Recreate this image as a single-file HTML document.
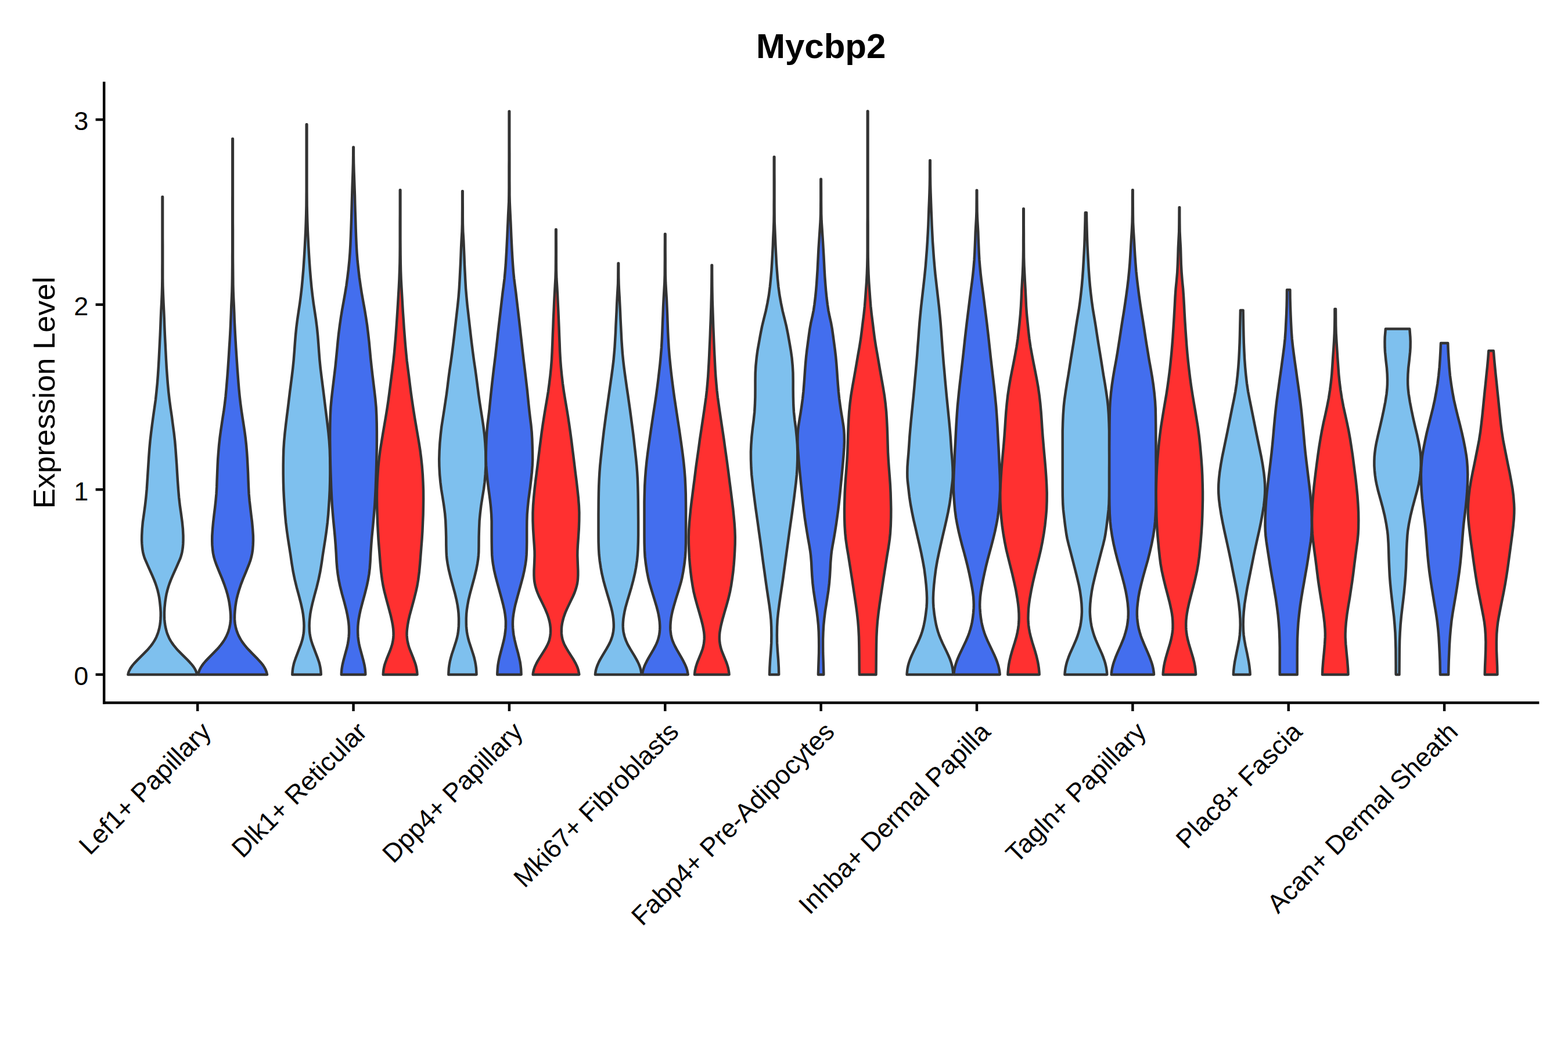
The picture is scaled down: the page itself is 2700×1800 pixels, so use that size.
<!DOCTYPE html>
<html lang="en"><head><meta charset="utf-8"><title>Mycbp2</title>
<style>html,body{margin:0;padding:0;background:#fff;}body{width:2700px;height:1800px;overflow:hidden;font-family:"Liberation Sans",sans-serif;}svg{display:block;}.t{fill:#000;font-family:"Liberation Sans",sans-serif;}.v{stroke:#333;stroke-width:4.45;stroke-linejoin:round;stroke-linecap:round;}.ax{stroke:#000;stroke-width:4.45;fill:none;}</style></head><body>
<svg xmlns="http://www.w3.org/2000/svg" width="2700" height="1800" viewBox="0 0 2700 1800">
<rect x="0" y="0" width="2700" height="1800" fill="#fff"/>
<g class="v">
<path d="M280.1 339.0L280.1 353.0L280.1 367.0L280.1 381.0L280.1 395.0L280.1 409.0L280.2 423.0L280.2 437.0L280.2 451.0L280.2 465.0L280.2 479.0L280.4 493.0L280.9 507.0L281.5 521.0L282.2 535.0L282.8 549.0L283.3 563.0L283.9 577.0L284.6 591.0L285.3 605.0L286.0 619.0L286.8 633.0L287.8 647.0L288.9 661.0L290.2 675.0L291.8 689.0L293.7 703.0L295.8 717.0L297.6 731.0L299.5 745.0L301.1 758.9L302.3 772.9L303.3 786.9L304.3 800.9L305.1 814.9L306.0 828.9L307.0 842.9L308.2 856.9L309.8 870.9L311.8 884.9L313.7 898.9L314.9 910.9L315.5 922.9L315.5 930.9L315.3 936.9L314.8 942.9L314.2 946.9L313.5 950.9L312.6 954.9L311.4 958.9L310.0 962.9L303.9 976.9L297.6 990.9L294.2 998.9L291.9 1004.9L289.9 1010.9L288.2 1016.9L286.7 1022.9L285.6 1028.9L284.4 1036.9L283.4 1046.9L283.0 1054.9L283.0 1060.9L283.2 1066.9L283.8 1072.9L284.4 1076.9L285.1 1080.9L286.1 1084.9L287.2 1088.9L288.6 1092.9L290.3 1096.9L291.2 1098.9L292.2 1100.9L293.3 1102.9L294.5 1104.9L295.8 1106.9L297.2 1108.9L298.6 1110.9L300.2 1112.9L303.5 1116.9L307.1 1120.9L313.0 1126.9L323.1 1136.9L326.9 1140.9L328.7 1142.9L330.4 1144.9L332.0 1146.9L333.5 1148.9L334.8 1150.9L336.0 1152.9L337.0 1154.9L337.8 1156.9L338.5 1158.9L339.3 1161.9L220.4 1161.9L221.1 1158.9L221.8 1156.9L222.7 1154.9L223.7 1152.9L224.8 1150.9L226.2 1148.9L227.6 1146.9L229.2 1144.9L230.9 1142.9L232.8 1140.9L236.6 1136.9L246.6 1126.9L252.5 1120.9L256.1 1116.9L259.5 1112.9L261.0 1110.9L262.5 1108.9L263.8 1106.9L265.1 1104.9L266.3 1102.9L267.4 1100.9L268.4 1098.9L269.4 1096.9L271.0 1092.9L272.4 1088.9L273.6 1084.9L274.5 1080.9L275.3 1076.9L275.9 1072.9L276.4 1066.9L276.7 1060.9L276.7 1054.9L276.2 1046.9L275.2 1036.9L274.1 1028.9L272.9 1022.9L271.5 1016.9L269.7 1010.9L267.7 1004.9L265.4 998.9L262.0 990.9L255.7 976.9L249.6 962.9L248.2 958.9L247.0 954.9L246.1 950.9L245.4 946.9L244.9 942.9L244.4 936.9L244.1 930.9L244.2 922.9L244.8 910.9L245.9 898.9L247.9 884.9L249.8 870.9L251.4 856.9L252.7 842.9L253.6 828.9L254.5 814.9L255.4 800.9L256.3 786.9L257.3 772.9L258.6 758.9L260.2 745.0L262.0 731.0L263.9 717.0L265.9 703.0L267.9 689.0L269.4 675.0L270.8 661.0L271.9 647.0L272.8 633.0L273.6 619.0L274.3 605.0L275.0 591.0L275.7 577.0L276.3 563.0L276.8 549.0L277.4 535.0L278.2 521.0L278.8 507.0L279.2 493.0L279.4 479.0L279.4 465.0L279.5 451.0L279.5 437.0L279.5 423.0L279.5 409.0L279.5 395.0L279.5 381.0L279.5 367.0L279.5 353.0L279.5 339.0Z" fill="#7EC0EE"/>
<path d="M400.9 238.9L400.9 250.9L400.9 262.9L400.9 274.9L400.9 286.9L400.9 298.9L400.9 310.9L400.9 322.9L400.9 334.9L400.9 346.9L400.9 358.9L400.9 370.9L400.9 382.9L401.0 394.9L401.0 406.9L401.0 418.9L401.0 430.9L401.0 442.9L401.1 454.9L401.2 466.9L401.3 478.9L401.4 490.9L401.7 502.9L402.2 514.9L402.8 526.9L403.3 538.9L403.7 550.9L404.3 562.9L404.9 574.9L405.6 586.9L406.3 598.9L407.1 610.9L407.9 622.9L408.7 634.9L409.6 646.9L410.5 658.9L411.5 670.9L412.7 682.9L414.1 694.9L415.7 706.9L417.5 718.9L419.4 730.9L421.2 742.9L422.8 754.9L424.1 766.9L425.1 778.9L425.9 790.9L426.5 802.9L427.1 814.9L427.5 826.9L428.0 838.9L428.6 850.9L429.7 862.9L431.1 874.9L432.5 886.9L434.0 898.9L435.1 910.9L435.9 922.9L436.0 930.9L435.7 938.9L435.1 946.9L434.2 952.9L433.4 956.9L432.4 960.9L431.3 964.9L428.4 972.9L423.6 984.9L418.6 996.9L414.8 1006.9L411.5 1016.9L409.2 1024.9L407.7 1030.9L406.5 1036.9L405.3 1044.9L404.5 1052.9L404.1 1058.9L404.0 1062.9L404.1 1066.9L404.3 1070.9L404.8 1074.9L405.6 1078.9L406.5 1082.9L407.7 1086.9L409.2 1090.9L410.9 1094.9L413.0 1098.9L414.1 1100.9L415.3 1102.9L416.6 1104.9L418.0 1106.9L421.0 1110.9L424.3 1114.9L427.9 1118.9L433.6 1124.9L443.5 1134.9L447.2 1138.9L449.0 1140.9L450.6 1142.9L452.2 1144.9L453.6 1146.9L454.9 1148.9L456.0 1150.9L457.1 1152.9L457.9 1154.9L458.7 1156.9L459.3 1158.9L460.0 1161.9L341.1 1161.9L341.8 1158.9L342.5 1156.9L343.2 1154.9L344.1 1152.9L345.1 1150.9L346.3 1148.9L347.6 1146.9L349.0 1144.9L350.5 1142.9L352.2 1140.9L353.9 1138.9L357.7 1134.9L367.5 1124.9L373.3 1118.9L376.9 1114.9L380.2 1110.9L383.2 1106.9L384.6 1104.9L385.9 1102.9L387.1 1100.9L388.2 1098.9L390.2 1094.9L392.0 1090.9L393.4 1086.9L394.6 1082.9L395.6 1078.9L396.3 1074.9L396.8 1070.9L397.1 1066.9L397.2 1062.9L397.1 1058.9L396.7 1052.9L395.8 1044.9L394.6 1036.9L393.4 1030.9L392.0 1024.9L389.7 1016.9L386.3 1006.9L382.5 996.9L377.5 984.9L372.7 972.9L369.9 964.9L368.7 960.9L367.7 956.9L366.9 952.9L366.1 946.9L365.4 938.9L365.2 930.9L365.3 922.9L366.1 910.9L367.2 898.9L368.6 886.9L370.1 874.9L371.4 862.9L372.5 850.9L373.2 838.9L373.6 826.9L374.1 814.9L374.6 802.9L375.2 790.9L376.1 778.9L377.1 766.9L378.4 754.9L380.0 742.9L381.8 730.9L383.6 718.9L385.5 706.9L387.1 694.9L388.5 682.9L389.6 670.9L390.6 658.9L391.6 646.9L392.5 634.9L393.3 622.9L394.1 610.9L394.8 598.9L395.6 586.9L396.3 574.9L396.9 562.9L397.4 550.9L397.9 538.9L398.3 526.9L398.9 514.9L399.4 502.9L399.7 490.9L399.9 478.9L400.0 466.9L400.1 454.9L400.1 442.9L400.2 430.9L400.2 418.9L400.2 406.9L400.2 394.9L400.2 382.9L400.2 370.9L400.2 358.9L400.2 346.9L400.3 334.9L400.3 322.9L400.3 310.9L400.3 298.9L400.3 286.9L400.3 274.9L400.3 262.9L400.3 250.9L400.3 238.9Z" fill="#436EEE"/>
<path d="M528.4 214.3L528.4 228.3L528.4 242.3L528.4 256.3L528.4 270.3L528.4 284.3L528.4 298.3L528.4 312.3L528.4 326.3L528.5 340.2L528.6 354.2L528.9 368.2L529.3 382.2L529.8 396.2L530.5 410.2L531.2 424.2L532.0 438.2L532.9 452.2L533.9 466.2L535.1 480.2L536.4 494.2L538.0 508.2L539.8 522.2L541.9 536.2L544.0 550.2L545.8 564.2L547.2 578.1L548.3 592.1L549.3 606.1L550.4 620.1L551.8 634.1L553.5 648.1L555.3 662.1L557.1 676.1L558.8 690.1L560.5 704.1L562.3 718.1L564.0 732.1L565.6 746.1L566.9 760.1L567.8 774.1L568.2 788.1L568.4 802.1L568.4 816.0L568.2 830.0L567.8 844.0L567.1 858.0L566.2 872.0L565.2 886.0L563.9 900.0L562.2 914.0L560.2 928.0L558.0 942.0L555.8 956.0L553.8 970.0L551.5 984.0L548.6 998.0L545.2 1012.0L541.4 1026.0L537.8 1040.0L535.6 1049.9L534.2 1057.9L533.3 1065.9L532.8 1071.9L532.6 1077.9L532.8 1083.9L533.0 1087.9L533.5 1091.9L534.2 1095.9L535.0 1099.9L536.1 1103.9L538.0 1109.9L543.3 1123.9L547.1 1133.9L549.2 1139.9L550.3 1143.9L551.2 1147.9L551.9 1151.9L552.4 1155.9L552.8 1161.9L503.3 1161.9L503.7 1155.9L504.2 1151.9L504.9 1147.9L505.8 1143.9L506.9 1139.9L509.0 1133.9L512.8 1123.9L518.1 1109.9L520.0 1103.9L521.1 1099.9L521.9 1095.9L522.6 1091.9L523.1 1087.9L523.3 1083.9L523.5 1077.9L523.3 1071.9L522.8 1065.9L521.9 1057.9L520.5 1049.9L518.3 1040.0L514.7 1026.0L510.9 1012.0L507.5 998.0L504.6 984.0L502.3 970.0L500.3 956.0L498.1 942.0L495.9 928.0L493.9 914.0L492.2 900.0L490.9 886.0L489.9 872.0L489.0 858.0L488.3 844.0L487.9 830.0L487.7 816.0L487.7 802.1L487.9 788.1L488.3 774.1L489.2 760.1L490.5 746.1L492.1 732.1L493.8 718.1L495.6 704.1L497.3 690.1L499.0 676.1L500.8 662.1L502.6 648.1L504.3 634.1L505.7 620.1L506.8 606.1L507.8 592.1L508.9 578.1L510.3 564.2L512.1 550.2L514.2 536.2L516.3 522.2L518.1 508.2L519.7 494.2L521.0 480.2L522.2 466.2L523.2 452.2L524.1 438.2L524.9 424.2L525.6 410.2L526.3 396.2L526.8 382.2L527.2 368.2L527.5 354.2L527.6 340.2L527.7 326.3L527.7 312.3L527.7 298.3L527.7 284.3L527.7 270.3L527.7 256.3L527.7 242.3L527.7 228.3L527.7 214.3Z" fill="#7EC0EE"/>
<path d="M608.9 253.4L608.9 267.4L609.1 281.4L609.5 295.4L610.0 309.4L610.5 323.4L611.0 337.4L611.3 351.3L611.7 365.3L612.2 379.3L612.6 393.3L613.1 407.3L613.7 421.3L614.5 435.3L615.6 449.3L617.1 463.3L618.7 477.3L620.7 491.3L622.9 505.3L625.4 519.3L627.9 533.2L630.2 547.2L632.3 561.2L634.0 575.2L635.6 589.2L636.9 603.2L638.2 617.2L639.7 631.2L641.3 645.2L643.0 659.2L644.7 673.2L646.3 687.2L647.6 701.2L648.3 715.1L648.7 729.1L648.9 743.1L648.9 757.1L648.8 771.1L648.5 785.1L648.2 799.1L647.8 813.1L647.3 827.1L646.8 841.1L646.1 855.1L645.3 869.1L644.2 883.1L643.0 897.0L641.7 911.0L640.3 925.0L639.2 939.0L638.3 953.0L637.6 967.0L636.7 979.0L635.5 989.0L633.8 999.0L631.7 1009.0L628.2 1023.0L624.4 1037.0L620.7 1051.0L619.0 1059.0L617.6 1067.0L616.8 1072.9L616.3 1078.9L616.1 1084.9L616.2 1090.9L616.5 1096.9L617.2 1102.9L618.2 1108.9L619.5 1114.9L623.3 1128.9L626.0 1138.9L627.4 1144.9L628.1 1148.9L628.7 1152.9L629.2 1158.9L629.3 1161.9L587.8 1161.9L587.9 1158.9L588.4 1152.9L589.0 1148.9L589.7 1144.9L591.1 1138.9L593.8 1128.9L597.6 1114.9L598.9 1108.9L599.9 1102.9L600.6 1096.9L601.0 1090.9L601.0 1084.9L600.8 1078.9L600.3 1072.9L599.5 1067.0L598.1 1059.0L596.4 1051.0L592.8 1037.0L588.9 1023.0L585.4 1009.0L583.3 999.0L581.7 989.0L580.5 979.0L579.5 967.0L578.8 953.0L577.9 939.0L576.8 925.0L575.5 911.0L574.1 897.0L572.9 883.1L571.8 869.1L571.0 855.1L570.3 841.1L569.8 827.1L569.3 813.1L568.9 799.1L568.6 785.1L568.4 771.1L568.2 757.1L568.2 743.1L568.4 729.1L568.8 715.1L569.5 701.2L570.8 687.2L572.4 673.2L574.1 659.2L575.8 645.2L577.5 631.2L578.9 617.2L580.3 603.2L581.6 589.2L583.1 575.2L584.9 561.2L586.9 547.2L589.2 533.2L591.7 519.3L594.2 505.3L596.5 491.3L598.4 477.3L600.1 463.3L601.5 449.3L602.6 435.3L603.4 421.3L604.0 407.3L604.5 393.3L605.0 379.3L605.4 365.3L605.8 351.3L606.2 337.4L606.6 323.4L607.1 309.4L607.6 295.4L608.0 281.4L608.2 267.4L608.3 253.4Z" fill="#436EEE"/>
<path d="M689.4 327.3L689.4 341.3L689.4 355.3L689.4 369.3L689.4 383.3L689.4 397.3L689.4 411.3L689.5 425.3L689.6 439.2L689.8 453.2L690.1 467.2L690.6 481.2L691.4 495.2L692.2 509.2L693.0 523.2L693.8 537.2L694.8 551.2L695.7 565.2L696.8 579.2L697.9 593.2L699.2 607.2L700.6 621.2L702.4 635.2L704.2 649.1L705.9 663.1L707.7 677.1L709.7 691.1L711.8 705.1L714.0 719.1L716.4 733.1L718.8 747.1L721.2 761.1L723.4 775.1L725.2 789.1L726.7 803.1L727.8 817.1L728.5 831.1L729.0 845.1L729.1 859.0L728.9 873.0L728.6 887.0L728.0 901.0L727.4 915.0L726.5 929.0L725.4 943.0L724.3 957.0L723.2 971.0L721.9 985.0L720.1 999.0L718.4 1009.0L716.2 1019.0L712.7 1033.0L708.9 1047.0L705.1 1060.9L703.3 1068.9L701.9 1076.9L701.1 1082.9L700.7 1086.9L700.5 1090.9L700.6 1094.9L700.9 1098.9L701.4 1102.9L702.2 1106.9L703.2 1110.9L704.4 1114.9L706.6 1120.9L712.2 1134.9L714.4 1140.9L715.7 1144.9L716.7 1148.9L717.5 1152.9L718.1 1156.9L718.5 1161.9L659.7 1161.9L660.1 1156.9L660.6 1152.9L661.4 1148.9L662.4 1144.9L663.7 1140.9L665.9 1134.9L671.6 1120.9L673.7 1114.9L675.0 1110.9L676.0 1106.9L676.7 1102.9L677.3 1098.9L677.5 1094.9L677.6 1090.9L677.4 1086.9L677.1 1082.9L676.3 1076.9L674.8 1068.9L673.0 1060.9L669.3 1047.0L665.5 1033.0L661.9 1019.0L659.7 1009.0L658.0 999.0L656.2 985.0L654.9 971.0L653.8 957.0L652.7 943.0L651.6 929.0L650.8 915.0L650.1 901.0L649.6 887.0L649.2 873.0L649.0 859.0L649.1 845.1L649.6 831.1L650.4 817.1L651.4 803.1L652.9 789.1L654.7 775.1L657.0 761.1L659.3 747.1L661.7 733.1L664.1 719.1L666.4 705.1L668.5 691.1L670.4 677.1L672.2 663.1L674.0 649.1L675.8 635.2L677.5 621.2L679.0 607.2L680.2 593.2L681.4 579.2L682.4 565.2L683.4 551.2L684.3 537.2L685.2 523.2L686.0 509.2L686.8 495.2L687.5 481.2L688.0 467.2L688.4 453.2L688.6 439.2L688.7 425.3L688.7 411.3L688.7 397.3L688.7 383.3L688.8 369.3L688.8 355.3L688.8 341.3L688.8 327.3Z" fill="#FF3030"/>
<path d="M796.7 329.1L796.7 343.1L796.8 357.1L796.8 371.1L796.9 385.1L797.3 399.1L798.2 413.1L798.8 427.1L799.4 441.1L799.9 455.1L800.6 469.1L801.3 483.1L802.1 497.1L803.3 511.1L804.6 525.1L806.2 539.0L807.8 553.0L809.4 567.0L811.0 581.0L812.7 595.0L814.5 609.0L816.4 623.0L818.5 637.0L820.4 651.0L822.2 665.0L824.0 679.0L826.0 693.0L828.2 707.0L830.4 721.0L832.5 735.0L834.2 749.0L835.4 763.0L836.2 777.0L836.6 791.0L836.5 803.0L835.7 817.0L834.5 831.0L832.9 843.0L830.6 857.0L828.4 871.0L826.7 885.0L825.6 897.0L825.0 911.0L824.6 925.0L824.5 939.0L824.3 951.0L823.9 956.9L823.3 962.9L822.1 970.9L820.2 980.9L816.8 994.9L813.0 1008.9L809.2 1022.9L806.8 1032.9L805.0 1042.9L803.8 1050.9L803.2 1056.9L802.8 1064.9L802.8 1072.9L803.0 1078.9L803.5 1084.9L804.0 1088.9L804.7 1092.9L806.0 1098.9L807.6 1104.9L812.2 1118.9L814.8 1126.9L816.6 1132.9L818.0 1138.9L819.1 1144.9L819.9 1150.9L820.3 1156.9L820.5 1161.9L772.3 1161.9L772.5 1156.9L772.9 1150.9L773.7 1144.9L774.8 1138.9L776.3 1132.9L778.0 1126.9L780.7 1118.9L785.2 1104.9L786.9 1098.9L788.2 1092.9L788.8 1088.9L789.3 1084.9L789.8 1078.9L790.0 1072.9L790.0 1064.9L789.6 1056.9L789.0 1050.9L787.9 1042.9L786.0 1032.9L783.6 1022.9L779.8 1008.9L776.0 994.9L772.6 980.9L770.7 970.9L769.5 962.9L768.9 956.9L768.6 951.0L768.3 939.0L768.2 925.0L767.8 911.0L767.2 897.0L766.2 885.0L764.4 871.0L762.2 857.0L759.9 843.0L758.4 831.0L757.1 817.0L756.4 803.0L756.2 791.0L756.6 777.0L757.4 763.0L758.7 749.0L760.3 735.0L762.5 721.0L764.7 707.0L766.8 693.0L768.9 679.0L770.7 665.0L772.4 651.0L774.3 637.0L776.4 623.0L778.3 609.0L780.1 595.0L781.8 581.0L783.4 567.0L785.0 553.0L786.6 539.0L788.2 525.1L789.6 511.1L790.7 497.1L791.5 483.1L792.2 469.1L792.9 455.1L793.5 441.1L794.0 427.1L794.7 413.1L795.5 399.1L795.9 385.1L796.0 371.1L796.1 357.1L796.1 343.1L796.1 329.1Z" fill="#7EC0EE"/>
<path d="M877.2 191.8L877.2 203.8L877.2 215.8L877.2 227.8L877.2 239.8L877.2 251.8L877.3 263.8L877.3 275.8L877.3 287.8L877.3 299.8L877.3 311.8L877.4 323.8L877.4 335.8L877.7 347.8L878.2 359.8L878.8 371.8L879.4 383.8L879.9 395.8L880.4 407.8L881.0 419.8L881.6 431.8L882.3 443.8L883.1 455.8L884.0 467.8L885.2 479.8L886.7 491.8L888.3 503.8L889.7 515.8L891.1 527.8L892.5 539.8L893.9 551.8L895.3 563.8L896.6 575.8L898.0 587.8L899.3 599.8L900.7 611.8L902.1 623.8L903.6 635.8L905.0 647.8L906.4 659.8L907.8 671.8L909.0 683.9L910.2 695.9L911.5 707.9L912.9 719.9L914.4 731.9L915.6 743.9L916.3 755.9L916.7 767.9L917.0 779.9L917.1 791.9L916.7 801.9L915.8 813.9L914.5 825.9L913.1 837.9L911.5 849.9L909.9 861.9L908.7 873.9L907.7 885.9L907.3 897.9L907.2 909.9L907.2 921.9L907.2 933.9L907.0 945.9L906.6 955.9L905.9 963.9L904.8 971.9L903.0 981.9L900.3 993.9L897.1 1005.9L893.8 1017.9L890.5 1029.9L887.3 1041.9L885.6 1049.9L884.2 1057.9L883.4 1063.9L883.0 1069.9L882.9 1075.9L883.2 1081.9L883.7 1087.9L884.5 1093.9L886.1 1101.9L889.0 1113.9L892.3 1125.9L894.2 1133.9L895.5 1139.9L896.4 1145.9L897.1 1151.9L897.5 1159.9L897.6 1161.9L856.3 1161.9L856.3 1159.9L856.8 1151.9L857.4 1145.9L858.4 1139.9L859.6 1133.9L861.6 1125.9L864.8 1113.9L867.8 1101.9L869.3 1093.9L870.1 1087.9L870.7 1081.9L870.9 1075.9L870.9 1069.9L870.4 1063.9L869.7 1057.9L868.3 1049.9L866.5 1041.9L863.4 1029.9L860.1 1017.9L856.8 1005.9L853.6 993.9L850.8 981.9L849.0 971.9L847.9 963.9L847.2 955.9L846.9 945.9L846.7 933.9L846.6 921.9L846.6 909.9L846.6 897.9L846.1 885.9L845.2 873.9L843.9 861.9L842.3 849.9L840.7 837.9L839.3 825.9L838.1 813.9L837.1 801.9L836.7 791.9L836.8 779.9L837.1 767.9L837.6 755.9L838.3 743.9L839.4 731.9L840.9 719.9L842.4 707.9L843.6 695.9L844.8 683.9L846.1 671.8L847.4 659.8L848.8 647.8L850.2 635.8L851.7 623.8L853.2 611.8L854.5 599.8L855.9 587.8L857.2 575.8L858.6 563.8L860.0 551.8L861.4 539.8L862.8 527.8L864.2 515.8L865.6 503.8L867.2 491.8L868.7 479.8L869.8 467.8L870.8 455.8L871.5 443.8L872.2 431.8L872.8 419.8L873.4 407.8L873.9 395.8L874.5 383.8L875.0 371.8L875.6 359.8L876.2 347.8L876.4 335.8L876.5 323.8L876.5 311.8L876.5 299.8L876.5 287.8L876.6 275.8L876.6 263.8L876.6 251.8L876.6 239.8L876.6 227.8L876.6 215.8L876.6 203.8L876.6 191.8Z" fill="#436EEE"/>
<path d="M957.7 395.2L957.7 409.2L957.8 423.2L957.8 437.2L957.8 451.2L957.9 465.2L958.3 479.2L959.2 493.2L960.0 507.2L960.6 521.2L961.3 535.1L961.9 549.1L962.5 563.1L963.0 577.1L963.6 591.1L964.1 605.1L964.9 619.1L966.0 633.1L967.4 647.1L969.0 661.1L971.0 675.1L973.3 689.1L975.7 703.1L978.0 717.1L980.1 731.1L982.1 745.1L984.0 759.1L985.7 773.1L987.5 787.0L989.2 801.0L990.9 815.0L992.7 829.0L994.3 843.0L995.8 857.0L996.9 871.0L997.4 883.0L997.3 897.0L996.8 911.0L995.9 925.0L994.9 939.0L994.4 949.0L994.3 957.0L994.8 971.0L995.3 983.0L995.3 991.0L995.0 997.0L994.6 1001.0L994.0 1005.0L993.1 1009.0L992.0 1013.0L990.7 1017.0L989.3 1021.0L986.7 1027.0L980.0 1040.9L976.2 1048.9L973.6 1054.9L972.1 1058.9L970.7 1062.9L969.6 1066.9L968.6 1070.9L967.8 1074.9L967.2 1078.9L966.9 1082.9L966.8 1086.9L966.9 1090.9L967.3 1094.9L968.0 1098.9L968.5 1100.9L969.1 1102.9L969.8 1104.9L970.5 1106.9L971.3 1108.9L973.3 1112.9L975.5 1116.9L979.1 1122.9L986.8 1134.9L989.1 1138.9L991.3 1142.9L993.2 1146.9L994.0 1148.9L994.8 1150.9L995.4 1152.9L996.0 1154.9L996.4 1156.9L996.8 1158.9L997.3 1161.9L917.6 1161.9L918.0 1158.9L918.4 1156.9L918.9 1154.9L919.4 1152.9L920.1 1150.9L920.8 1148.9L921.7 1146.9L923.6 1142.9L925.7 1138.9L928.1 1134.9L935.7 1122.9L939.4 1116.9L941.6 1112.9L943.5 1108.9L944.4 1106.9L945.1 1104.9L945.8 1102.9L946.3 1100.9L946.8 1098.9L947.5 1094.9L947.9 1090.9L948.1 1086.9L948.0 1082.9L947.6 1078.9L947.1 1074.9L946.3 1070.9L945.3 1066.9L944.1 1062.9L942.8 1058.9L941.2 1054.9L938.7 1048.9L934.9 1040.9L928.1 1027.0L925.6 1021.0L924.1 1017.0L922.8 1013.0L921.7 1009.0L920.9 1005.0L920.2 1001.0L919.8 997.0L919.5 991.0L919.5 983.0L920.1 971.0L920.6 957.0L920.5 949.0L919.9 939.0L918.9 925.0L918.0 911.0L917.5 897.0L917.5 883.0L918.0 871.0L919.1 857.0L920.5 843.0L922.1 829.0L923.9 815.0L925.7 801.0L927.4 787.0L929.1 773.1L930.9 759.1L932.7 745.1L934.7 731.1L936.9 717.1L939.2 703.1L941.6 689.1L943.9 675.1L945.8 661.1L947.5 647.1L948.9 633.1L950.0 619.1L950.7 605.1L951.3 591.1L951.8 577.1L952.4 563.1L952.9 549.1L953.6 535.1L954.2 521.2L954.9 507.2L955.7 493.2L956.5 479.2L956.9 465.2L957.0 451.2L957.1 437.2L957.1 423.2L957.1 409.2L957.1 395.2Z" fill="#FF3030"/>
<path d="M1065.1 453.5L1065.1 465.5L1065.2 477.5L1065.5 489.5L1066.1 501.5L1066.8 513.5L1067.4 525.5L1068.0 537.5L1068.5 549.6L1069.1 561.6L1069.7 573.6L1070.3 585.6L1071.1 597.6L1072.0 609.6L1073.2 621.6L1074.6 633.6L1076.2 645.6L1077.9 657.6L1079.6 669.6L1081.4 681.6L1083.1 693.6L1084.8 705.6L1086.4 717.6L1088.0 729.7L1089.6 741.7L1091.1 753.7L1092.4 765.7L1093.8 777.7L1095.1 789.7L1096.3 801.7L1097.2 813.7L1097.9 825.7L1098.3 837.7L1098.6 849.7L1098.8 861.7L1098.9 873.7L1099.0 885.7L1099.1 897.8L1099.1 909.8L1099.1 921.8L1098.9 933.8L1098.5 945.8L1097.9 955.8L1096.9 965.8L1095.1 977.8L1093.2 987.8L1090.4 999.8L1087.2 1011.8L1083.6 1023.8L1080.0 1035.8L1077.2 1045.8L1075.4 1053.8L1074.3 1059.8L1073.4 1065.8L1072.9 1071.8L1072.7 1075.9L1072.8 1079.9L1073.0 1083.9L1073.5 1087.9L1074.3 1091.9L1075.3 1095.9L1076.6 1099.9L1078.1 1103.9L1079.9 1107.9L1081.9 1111.9L1085.3 1117.9L1092.6 1129.9L1096.0 1135.9L1098.1 1139.9L1100.0 1143.9L1101.6 1147.9L1102.3 1149.9L1102.9 1151.9L1103.4 1153.9L1103.8 1155.9L1104.4 1159.9L1104.6 1161.9L1024.9 1161.9L1025.1 1159.9L1025.7 1155.9L1026.2 1153.9L1026.7 1151.9L1027.3 1149.9L1028.0 1147.9L1029.6 1143.9L1031.4 1139.9L1033.5 1135.9L1037.0 1129.9L1044.2 1117.9L1047.6 1111.9L1049.7 1107.9L1051.5 1103.9L1053.0 1099.9L1054.3 1095.9L1055.3 1091.9L1056.0 1087.9L1056.5 1083.9L1056.8 1079.9L1056.8 1075.9L1056.6 1071.8L1056.1 1065.8L1055.3 1059.8L1054.2 1053.8L1052.3 1045.8L1049.5 1035.8L1045.9 1023.8L1042.4 1011.8L1039.1 999.8L1036.3 987.8L1034.5 977.8L1032.7 965.8L1031.6 955.8L1031.0 945.8L1030.6 933.8L1030.5 921.8L1030.5 909.8L1030.5 897.8L1030.5 885.7L1030.6 873.7L1030.7 861.7L1030.9 849.7L1031.2 837.7L1031.7 825.7L1032.4 813.7L1033.3 801.7L1034.5 789.7L1035.8 777.7L1037.1 765.7L1038.5 753.7L1039.9 741.7L1041.5 729.7L1043.1 717.6L1044.8 705.6L1046.5 693.6L1048.2 681.6L1049.9 669.6L1051.6 657.6L1053.3 645.6L1054.9 633.6L1056.4 621.6L1057.5 609.6L1058.5 597.6L1059.2 585.6L1059.9 573.6L1060.4 561.6L1061.0 549.6L1061.6 537.5L1062.1 525.5L1062.7 513.5L1063.4 501.5L1064.1 489.5L1064.3 477.5L1064.4 465.5L1064.5 453.5Z" fill="#7EC0EE"/>
<path d="M1145.6 403.0L1145.6 417.0L1145.6 431.0L1145.7 445.0L1145.7 459.0L1145.8 473.0L1146.2 487.0L1147.0 501.0L1147.9 515.0L1148.5 529.0L1149.1 543.0L1149.6 557.0L1150.1 571.0L1150.8 585.0L1151.6 599.0L1152.7 613.0L1154.1 627.0L1155.6 641.0L1157.3 655.0L1159.1 669.0L1161.0 683.0L1163.1 697.0L1165.2 711.0L1167.3 725.0L1169.5 739.0L1171.5 753.0L1173.5 767.0L1175.4 781.0L1177.1 794.9L1178.5 808.9L1179.6 822.9L1180.3 836.9L1180.8 850.9L1181.0 864.9L1181.1 878.9L1181.1 892.9L1181.1 906.9L1181.1 920.9L1181.0 934.9L1180.6 948.9L1179.9 958.9L1178.6 970.9L1176.4 984.9L1174.5 994.9L1172.6 1002.9L1168.5 1016.9L1164.1 1030.9L1160.0 1044.9L1157.9 1052.9L1156.6 1058.9L1155.5 1064.9L1154.8 1070.9L1154.4 1076.9L1154.3 1080.9L1154.4 1084.9L1154.8 1088.9L1155.3 1092.9L1156.1 1096.9L1157.2 1100.9L1158.6 1104.9L1160.3 1108.9L1162.2 1112.9L1165.4 1118.9L1173.5 1132.9L1176.8 1138.9L1178.8 1142.9L1180.6 1146.9L1182.2 1150.9L1182.8 1152.9L1183.4 1154.9L1183.8 1156.9L1184.7 1161.9L1105.9 1161.9L1106.7 1156.9L1107.2 1154.9L1107.8 1152.9L1108.4 1150.9L1109.9 1146.9L1111.7 1142.9L1113.7 1138.9L1117.0 1132.9L1125.2 1118.9L1128.4 1112.9L1130.3 1108.9L1132.0 1104.9L1133.3 1100.9L1134.4 1096.9L1135.2 1092.9L1135.8 1088.9L1136.1 1084.9L1136.3 1080.9L1136.2 1076.9L1135.8 1070.9L1135.0 1064.9L1134.0 1058.9L1132.7 1052.9L1130.6 1044.9L1126.4 1030.9L1122.1 1016.9L1118.0 1002.9L1116.1 994.9L1114.1 984.9L1112.0 970.9L1110.6 958.9L1110.0 948.9L1109.6 934.9L1109.5 920.9L1109.5 906.9L1109.5 892.9L1109.5 878.9L1109.5 864.9L1109.8 850.9L1110.2 836.9L1111.0 822.9L1112.1 808.9L1113.5 794.9L1115.2 781.0L1117.1 767.0L1119.1 753.0L1121.1 739.0L1123.2 725.0L1125.3 711.0L1127.5 697.0L1129.6 683.0L1131.5 669.0L1133.3 655.0L1134.9 641.0L1136.5 627.0L1137.8 613.0L1139.0 599.0L1139.8 585.0L1140.4 571.0L1140.9 557.0L1141.5 543.0L1142.0 529.0L1142.7 515.0L1143.5 501.0L1144.3 487.0L1144.7 473.0L1144.8 459.0L1144.9 445.0L1144.9 431.0L1145.0 417.0L1145.0 403.0Z" fill="#436EEE"/>
<path d="M1226.1 456.8L1226.1 468.8L1226.2 480.8L1226.3 492.8L1226.5 504.8L1226.7 516.8L1227.1 528.8L1227.5 540.8L1227.9 552.8L1228.3 564.8L1228.8 576.8L1229.3 588.8L1229.8 600.8L1230.4 612.8L1231.0 624.8L1231.6 636.8L1232.4 648.8L1233.4 660.8L1234.5 672.8L1235.9 684.8L1237.6 696.8L1239.3 708.8L1241.1 720.8L1242.9 732.8L1244.7 744.8L1246.5 756.8L1248.1 768.8L1249.8 780.8L1251.5 792.8L1253.1 804.8L1254.7 816.9L1256.2 828.9L1257.8 840.9L1259.3 852.9L1260.8 864.9L1262.3 876.9L1263.5 888.9L1264.6 900.9L1265.4 912.9L1265.8 924.9L1265.7 936.9L1265.2 948.9L1264.5 960.9L1263.6 972.9L1262.4 984.9L1260.8 996.9L1259.0 1008.9L1257.1 1018.9L1254.3 1030.9L1251.0 1042.9L1247.5 1054.9L1244.1 1066.9L1241.6 1076.9L1240.4 1082.9L1239.4 1088.9L1239.0 1092.9L1238.8 1096.9L1238.8 1100.9L1239.1 1104.9L1239.7 1108.9L1240.4 1112.9L1241.5 1116.9L1242.7 1120.9L1245.1 1126.9L1250.0 1138.9L1251.5 1142.9L1252.8 1146.9L1253.9 1150.9L1254.7 1154.9L1255.3 1158.9L1255.6 1161.9L1196.0 1161.9L1196.3 1158.9L1196.8 1154.9L1197.7 1150.9L1198.8 1146.9L1200.1 1142.9L1201.6 1138.9L1206.5 1126.9L1208.8 1120.9L1210.1 1116.9L1211.1 1112.9L1211.9 1108.9L1212.4 1104.9L1212.7 1100.9L1212.8 1096.9L1212.6 1092.9L1212.2 1088.9L1211.2 1082.9L1210.0 1076.9L1207.5 1066.9L1204.1 1054.9L1200.6 1042.9L1197.3 1030.9L1194.4 1018.9L1192.6 1008.9L1190.7 996.9L1189.2 984.9L1188.0 972.9L1187.0 960.9L1186.4 948.9L1185.9 936.9L1185.8 924.9L1186.2 912.9L1187.0 900.9L1188.1 888.9L1189.3 876.9L1190.7 864.9L1192.3 852.9L1193.8 840.9L1195.4 828.9L1196.9 816.9L1198.4 804.8L1200.1 792.8L1201.8 780.8L1203.5 768.8L1205.1 756.8L1206.9 744.8L1208.7 732.8L1210.5 720.8L1212.3 708.8L1214.0 696.8L1215.7 684.8L1217.1 672.8L1218.2 660.8L1219.2 648.8L1219.9 636.8L1220.6 624.8L1221.2 612.8L1221.7 600.8L1222.3 588.8L1222.8 576.8L1223.2 564.8L1223.7 552.8L1224.1 540.8L1224.5 528.8L1224.8 516.8L1225.1 504.8L1225.3 492.8L1225.4 480.8L1225.5 468.8L1225.5 456.8Z" fill="#FF3030"/>
<path d="M1333.4 270.1L1333.4 284.1L1333.4 298.1L1333.5 312.1L1333.5 326.1L1333.5 340.1L1333.5 354.1L1333.6 368.1L1333.7 382.1L1334.3 396.1L1334.9 410.1L1335.5 424.1L1336.2 438.1L1336.9 452.1L1337.9 466.1L1339.0 480.1L1340.4 494.0L1342.3 508.0L1344.8 522.0L1347.7 536.0L1351.2 550.0L1354.1 562.0L1356.9 576.0L1359.4 590.0L1361.8 604.0L1363.5 616.0L1364.8 630.0L1365.5 642.0L1365.7 656.0L1365.7 670.0L1365.9 684.0L1366.3 698.0L1367.0 710.0L1368.5 724.0L1370.4 738.0L1371.8 752.0L1372.9 766.0L1373.3 778.0L1373.2 792.0L1372.7 806.0L1371.9 818.0L1370.5 832.0L1368.8 846.0L1367.1 860.0L1365.2 874.0L1363.3 888.0L1361.3 902.0L1359.3 916.0L1357.4 930.0L1355.5 943.9L1353.6 957.9L1351.7 971.9L1349.8 985.9L1347.9 999.9L1345.8 1013.9L1343.7 1027.9L1341.7 1041.9L1339.9 1055.9L1338.7 1067.9L1338.1 1079.9L1337.9 1093.9L1338.1 1107.9L1339.0 1121.9L1340.1 1135.9L1340.9 1149.9L1341.2 1161.9L1325.0 1161.9L1325.4 1149.9L1326.2 1135.9L1327.3 1121.9L1328.2 1107.9L1328.4 1093.9L1328.2 1079.9L1327.6 1067.9L1326.4 1055.9L1324.6 1041.9L1322.5 1027.9L1320.4 1013.9L1318.4 999.9L1316.5 985.9L1314.5 971.9L1312.6 957.9L1310.8 943.9L1308.9 930.0L1306.9 916.0L1305.0 902.0L1303.0 888.0L1301.0 874.0L1299.2 860.0L1297.4 846.0L1295.8 832.0L1294.3 818.0L1293.5 806.0L1293.0 792.0L1292.9 778.0L1293.4 766.0L1294.4 752.0L1295.9 738.0L1297.7 724.0L1299.2 710.0L1299.9 698.0L1300.4 684.0L1300.5 670.0L1300.5 656.0L1300.7 642.0L1301.4 630.0L1302.8 616.0L1304.4 604.0L1306.9 590.0L1309.4 576.0L1312.2 562.0L1315.1 550.0L1318.6 536.0L1321.5 522.0L1324.0 508.0L1325.8 494.0L1327.2 480.1L1328.4 466.1L1329.3 452.1L1330.1 438.1L1330.8 424.1L1331.3 410.1L1332.0 396.1L1332.5 382.1L1332.7 368.1L1332.7 354.1L1332.8 340.1L1332.8 326.1L1332.8 312.1L1332.8 298.1L1332.8 284.1L1332.8 270.1Z" fill="#7EC0EE"/>
<path d="M1413.9 308.5L1413.9 320.5L1414.0 332.5L1414.0 344.5L1414.1 356.5L1414.2 368.5L1414.6 380.5L1415.4 392.5L1416.2 404.5L1417.0 416.6L1417.7 428.6L1418.4 440.6L1419.0 452.6L1419.6 464.6L1420.3 476.6L1421.2 488.6L1422.2 500.6L1423.4 512.6L1424.9 524.6L1426.4 534.6L1428.4 544.6L1431.1 556.6L1432.9 566.6L1434.6 578.6L1436.2 590.6L1437.8 602.6L1439.2 614.6L1440.3 626.6L1441.2 638.7L1442.0 650.7L1442.9 662.7L1443.9 674.7L1445.2 686.7L1446.8 698.7L1448.6 710.7L1450.6 722.7L1452.5 734.7L1453.2 740.7L1453.7 748.7L1453.9 760.7L1453.5 770.7L1452.7 782.7L1451.7 794.7L1450.6 806.7L1449.5 818.7L1448.3 830.7L1447.1 842.8L1445.9 854.8L1444.6 866.8L1443.2 878.8L1441.6 890.8L1439.9 902.8L1438.0 914.8L1436.0 926.8L1433.8 938.8L1432.1 948.8L1431.2 956.8L1430.2 968.8L1429.6 980.8L1428.9 992.8L1427.9 1004.8L1426.5 1016.8L1424.7 1028.8L1422.8 1040.8L1420.9 1052.8L1419.4 1064.9L1418.2 1076.9L1417.5 1088.9L1417.1 1100.9L1417.1 1112.9L1417.2 1124.9L1417.6 1136.9L1418.0 1148.9L1418.3 1160.9L1418.3 1161.9L1408.9 1161.9L1408.9 1160.9L1409.3 1148.9L1409.7 1136.9L1410.1 1124.9L1410.2 1112.9L1410.1 1100.9L1409.8 1088.9L1409.1 1076.9L1407.9 1064.9L1406.4 1052.8L1404.5 1040.8L1402.6 1028.8L1400.8 1016.8L1399.4 1004.8L1398.4 992.8L1397.7 980.8L1397.1 968.8L1396.1 956.8L1395.1 948.8L1393.5 938.8L1391.3 926.8L1389.3 914.8L1387.4 902.8L1385.6 890.8L1384.1 878.8L1382.7 866.8L1381.4 854.8L1380.2 842.8L1379.0 830.7L1377.8 818.7L1376.6 806.7L1375.5 794.7L1374.6 782.7L1373.7 770.7L1373.4 760.7L1373.6 748.7L1374.1 740.7L1374.8 734.7L1376.7 722.7L1378.7 710.7L1380.5 698.7L1382.1 686.7L1383.4 674.7L1384.4 662.7L1385.3 650.7L1386.1 638.7L1387.0 626.6L1388.1 614.6L1389.5 602.6L1391.1 590.6L1392.7 578.6L1394.4 566.6L1396.2 556.6L1398.9 544.6L1400.9 534.6L1402.4 524.6L1403.9 512.6L1405.1 500.6L1406.1 488.6L1406.9 476.6L1407.7 464.6L1408.3 452.6L1408.9 440.6L1409.5 428.6L1410.3 416.6L1411.1 404.5L1411.9 392.5L1412.7 380.5L1413.1 368.5L1413.2 356.5L1413.3 344.5L1413.3 332.5L1413.3 320.5L1413.3 308.5Z" fill="#436EEE"/>
<path d="M1494.5 191.4L1494.5 205.4L1494.5 219.4L1494.5 233.4L1494.5 247.4L1494.5 261.4L1494.5 275.4L1494.5 289.3L1494.5 303.3L1494.5 317.3L1494.5 331.3L1494.5 345.3L1494.5 359.3L1494.5 373.3L1494.6 387.3L1494.6 401.3L1494.6 415.3L1494.6 429.3L1494.7 443.3L1495.0 457.3L1495.5 471.3L1496.2 485.2L1497.2 499.2L1498.2 513.2L1499.3 527.2L1500.8 541.2L1502.6 555.2L1504.3 569.2L1506.1 583.2L1508.3 597.2L1510.8 611.2L1513.2 625.2L1515.6 639.2L1518.1 653.2L1520.6 667.2L1522.9 681.1L1524.7 695.1L1526.1 709.1L1527.0 723.1L1527.7 737.1L1528.2 751.1L1528.6 765.1L1529.0 779.1L1529.8 793.1L1530.8 807.1L1531.9 821.1L1532.9 835.1L1533.6 849.1L1534.0 863.1L1534.3 877.0L1534.2 891.0L1533.8 905.0L1532.9 919.0L1531.9 929.0L1529.9 943.0L1527.5 957.0L1525.3 971.0L1523.1 985.0L1520.9 999.0L1518.8 1013.0L1516.7 1027.0L1514.6 1041.0L1512.7 1055.0L1511.1 1068.9L1510.0 1082.9L1509.3 1096.9L1509.0 1110.9L1508.8 1124.9L1508.7 1138.9L1508.6 1152.9L1508.5 1161.9L1479.8 1161.9L1479.7 1152.9L1479.6 1138.9L1479.5 1124.9L1479.3 1110.9L1479.0 1096.9L1478.3 1082.9L1477.2 1068.9L1475.6 1055.0L1473.7 1041.0L1471.6 1027.0L1469.5 1013.0L1467.4 999.0L1465.2 985.0L1463.0 971.0L1460.8 957.0L1458.4 943.0L1456.4 929.0L1455.4 919.0L1454.5 905.0L1454.1 891.0L1454.0 877.0L1454.3 863.1L1454.7 849.1L1455.4 835.1L1456.4 821.1L1457.5 807.1L1458.5 793.1L1459.3 779.1L1459.7 765.1L1460.1 751.1L1460.6 737.1L1461.3 723.1L1462.2 709.1L1463.6 695.1L1465.4 681.1L1467.7 667.2L1470.2 653.2L1472.7 639.2L1475.1 625.2L1477.5 611.2L1480.0 597.2L1482.2 583.2L1484.0 569.2L1485.7 555.2L1487.5 541.2L1489.0 527.2L1490.1 513.2L1491.1 499.2L1492.1 485.2L1492.8 471.3L1493.3 457.3L1493.6 443.3L1493.7 429.3L1493.7 415.3L1493.7 401.3L1493.7 387.3L1493.8 373.3L1493.8 359.3L1493.8 345.3L1493.8 331.3L1493.8 317.3L1493.8 303.3L1493.8 289.3L1493.8 275.4L1493.8 261.4L1493.8 247.4L1493.8 233.4L1493.8 219.4L1493.8 205.4L1493.8 191.4Z" fill="#FF3030"/>
<path d="M1601.8 276.3L1601.8 290.3L1601.9 304.3L1602.1 318.3L1602.5 332.3L1603.0 346.3L1603.5 360.3L1604.1 374.3L1604.6 388.2L1605.3 402.2L1606.0 416.2L1607.0 430.2L1608.0 444.2L1609.2 458.2L1610.5 472.2L1612.1 486.2L1613.7 500.2L1615.3 514.2L1616.9 528.2L1618.3 542.2L1619.6 556.2L1620.7 570.2L1621.7 584.2L1622.7 598.2L1623.8 612.1L1624.9 626.1L1626.2 640.1L1627.4 654.1L1628.7 668.1L1630.0 682.1L1631.4 696.1L1632.8 710.1L1634.2 724.1L1635.5 738.1L1636.7 752.1L1637.6 766.1L1638.6 780.1L1639.8 794.1L1640.4 804.1L1640.7 814.1L1640.6 822.1L1640.2 828.1L1638.5 842.0L1636.9 856.0L1635.2 868.0L1632.6 882.0L1629.6 896.0L1626.4 910.0L1623.1 924.0L1619.9 938.0L1616.8 952.0L1613.9 966.0L1611.5 980.0L1609.7 994.0L1608.2 1008.0L1607.3 1020.0L1606.9 1030.0L1607.0 1038.0L1607.5 1046.0L1608.8 1057.9L1610.4 1067.9L1611.9 1075.9L1613.4 1081.9L1615.1 1087.9L1617.1 1093.9L1619.5 1099.9L1623.0 1107.9L1629.8 1121.9L1633.5 1129.9L1636.0 1135.9L1637.4 1139.9L1638.6 1143.9L1639.6 1147.9L1640.4 1151.9L1640.9 1155.9L1641.3 1159.9L1641.4 1161.9L1561.6 1161.9L1561.7 1159.9L1562.1 1155.9L1562.6 1151.9L1563.4 1147.9L1564.4 1143.9L1565.6 1139.9L1567.0 1135.9L1569.5 1129.9L1573.2 1121.9L1580.0 1107.9L1583.5 1099.9L1585.9 1093.9L1587.9 1087.9L1589.6 1081.9L1591.0 1075.9L1592.6 1067.9L1594.1 1057.9L1595.5 1046.0L1596.0 1038.0L1596.1 1030.0L1595.7 1020.0L1594.8 1008.0L1593.3 994.0L1591.5 980.0L1589.0 966.0L1586.2 952.0L1583.1 938.0L1579.8 924.0L1576.6 910.0L1573.3 896.0L1570.4 882.0L1567.8 868.0L1566.0 856.0L1564.4 842.0L1562.8 828.1L1562.4 822.1L1562.3 814.1L1562.5 804.1L1563.2 794.1L1564.4 780.1L1565.4 766.1L1566.3 752.1L1567.5 738.1L1568.8 724.1L1570.2 710.1L1571.6 696.1L1573.0 682.1L1574.3 668.1L1575.5 654.1L1576.8 640.1L1578.0 626.1L1579.2 612.1L1580.2 598.2L1581.3 584.2L1582.3 570.2L1583.4 556.2L1584.7 542.2L1586.1 528.2L1587.7 514.2L1589.3 500.2L1590.9 486.2L1592.4 472.2L1593.8 458.2L1594.9 444.2L1596.0 430.2L1596.9 416.2L1597.7 402.2L1598.4 388.2L1598.9 374.3L1599.4 360.3L1600.0 346.3L1600.5 332.3L1600.9 318.3L1601.1 304.3L1601.1 290.3L1601.2 276.3Z" fill="#7EC0EE"/>
<path d="M1682.3 327.7L1682.3 339.7L1682.4 351.7L1682.5 363.7L1682.9 375.7L1683.6 387.7L1684.3 399.7L1684.7 411.7L1685.2 423.7L1685.7 435.7L1686.4 447.7L1687.4 459.7L1688.6 471.7L1690.0 483.7L1691.6 495.7L1693.2 507.7L1694.7 519.7L1696.2 531.7L1697.7 543.8L1699.2 555.8L1700.6 567.8L1702.0 579.8L1703.3 591.8L1704.6 603.8L1705.9 615.8L1707.3 627.8L1708.7 639.8L1710.1 651.8L1711.5 663.8L1712.8 675.8L1714.0 687.8L1715.2 699.8L1716.1 711.8L1716.9 723.8L1717.6 735.8L1718.2 747.8L1718.8 759.8L1719.5 771.8L1720.1 783.8L1720.6 795.8L1721.2 807.8L1721.7 819.8L1722.1 831.8L1722.1 843.8L1721.5 855.8L1720.6 867.8L1719.5 879.8L1717.9 891.8L1715.7 903.8L1713.2 915.8L1710.3 927.8L1707.2 939.8L1703.9 951.8L1700.7 963.9L1697.7 975.9L1695.0 987.9L1692.5 999.9L1690.2 1011.9L1688.9 1019.9L1687.9 1027.9L1687.4 1035.9L1687.2 1041.9L1687.4 1047.9L1688.0 1055.9L1688.9 1063.9L1690.2 1071.9L1691.5 1077.9L1693.1 1083.9L1695.0 1089.9L1697.2 1095.9L1700.6 1103.9L1706.3 1115.9L1712.0 1127.9L1714.6 1133.9L1716.9 1139.9L1718.2 1143.9L1719.4 1147.9L1720.3 1151.9L1721.0 1155.9L1721.5 1159.9L1721.7 1161.9L1642.3 1161.9L1642.5 1159.9L1643.0 1155.9L1643.7 1151.9L1644.6 1147.9L1645.8 1143.9L1647.1 1139.9L1649.4 1133.9L1652.0 1127.9L1657.7 1115.9L1663.4 1103.9L1666.8 1095.9L1669.0 1089.9L1670.9 1083.9L1672.5 1077.9L1673.8 1071.9L1675.1 1063.9L1676.0 1055.9L1676.6 1047.9L1676.8 1041.9L1676.6 1035.9L1676.1 1027.9L1675.1 1019.9L1673.8 1011.9L1671.5 999.9L1669.0 987.9L1666.3 975.9L1663.3 963.9L1660.1 951.8L1656.8 939.8L1653.7 927.8L1650.8 915.8L1648.3 903.8L1646.1 891.8L1644.5 879.8L1643.4 867.8L1642.5 855.8L1641.9 843.8L1641.9 831.8L1642.3 819.8L1642.8 807.8L1643.4 795.8L1643.9 783.8L1644.5 771.8L1645.2 759.8L1645.8 747.8L1646.4 735.8L1647.1 723.8L1647.9 711.8L1648.8 699.8L1650.0 687.8L1651.2 675.8L1652.5 663.8L1653.9 651.8L1655.3 639.8L1656.7 627.8L1658.1 615.8L1659.4 603.8L1660.7 591.8L1662.0 579.8L1663.4 567.8L1664.8 555.8L1666.3 543.8L1667.8 531.7L1669.3 519.7L1670.8 507.7L1672.4 495.7L1674.0 483.7L1675.4 471.7L1676.6 459.7L1677.6 447.7L1678.3 435.7L1678.8 423.7L1679.3 411.7L1679.7 399.7L1680.4 387.7L1681.1 375.7L1681.5 363.7L1681.6 351.7L1681.7 339.7L1681.7 327.7Z" fill="#436EEE"/>
<path d="M1762.8 359.4L1762.8 373.4L1762.8 387.4L1762.9 401.4L1762.9 415.4L1763.0 429.4L1763.1 443.3L1763.5 457.3L1764.2 471.3L1764.9 485.3L1765.7 499.3L1766.4 513.3L1767.0 527.3L1768.0 541.3L1769.4 555.3L1770.8 569.3L1772.4 583.3L1774.5 597.3L1777.0 611.2L1779.7 625.2L1782.5 639.2L1785.2 653.2L1787.7 667.2L1789.7 681.2L1791.3 695.2L1792.6 709.2L1793.6 723.2L1794.5 737.2L1795.5 751.2L1796.7 765.1L1797.9 779.1L1799.2 793.1L1800.4 807.1L1801.4 821.1L1802.2 835.1L1802.7 849.1L1802.6 863.1L1802.1 877.1L1800.9 891.1L1799.4 905.1L1797.4 919.1L1795.0 933.0L1792.2 947.0L1788.9 961.0L1785.3 975.0L1781.9 989.0L1778.6 1003.0L1775.7 1017.0L1773.2 1031.0L1771.8 1041.0L1771.0 1049.0L1770.6 1057.0L1770.4 1065.0L1770.6 1071.0L1771.1 1077.0L1771.9 1082.9L1773.0 1088.9L1774.9 1096.9L1777.7 1106.9L1782.1 1120.9L1784.9 1130.9L1786.8 1138.9L1787.9 1144.9L1788.8 1150.9L1789.4 1156.9L1789.7 1161.9L1735.4 1161.9L1735.7 1156.9L1736.3 1150.9L1737.1 1144.9L1738.2 1138.9L1740.1 1130.9L1742.9 1120.9L1747.3 1106.9L1750.2 1096.9L1752.0 1088.9L1753.1 1082.9L1753.9 1077.0L1754.4 1071.0L1754.6 1065.0L1754.5 1057.0L1754.0 1049.0L1753.2 1041.0L1751.8 1031.0L1749.4 1017.0L1746.4 1003.0L1743.2 989.0L1739.7 975.0L1736.2 961.0L1732.8 947.0L1730.0 933.0L1727.6 919.1L1725.6 905.1L1724.1 891.1L1723.0 877.1L1722.4 863.1L1722.3 849.1L1722.8 835.1L1723.6 821.1L1724.6 807.1L1725.8 793.1L1727.1 779.1L1728.4 765.1L1729.5 751.2L1730.5 737.2L1731.4 723.2L1732.4 709.2L1733.7 695.2L1735.3 681.2L1737.4 667.2L1739.8 653.2L1742.5 639.2L1745.3 625.2L1748.0 611.2L1750.5 597.3L1752.6 583.3L1754.2 569.3L1755.7 555.3L1757.0 541.3L1758.0 527.3L1758.7 513.3L1759.3 499.3L1760.1 485.3L1760.9 471.3L1761.5 457.3L1761.9 443.3L1762.1 429.4L1762.1 415.4L1762.2 401.4L1762.2 387.4L1762.2 373.4L1762.2 359.4Z" fill="#FF3030"/>
<path d="M1870.9 366.3L1871.1 380.3L1871.5 394.3L1871.9 408.3L1872.4 422.3L1873.1 436.3L1873.9 450.3L1874.7 464.3L1875.7 478.2L1876.9 492.2L1878.4 506.2L1880.1 520.2L1882.1 534.2L1884.5 548.2L1886.8 562.2L1888.9 576.2L1891.1 590.2L1893.4 604.2L1895.7 618.2L1897.9 632.2L1900.1 646.2L1902.5 660.2L1904.7 674.1L1906.7 688.1L1908.0 700.1L1909.0 714.1L1909.6 728.1L1910.0 742.1L1910.0 756.1L1910.0 770.1L1910.1 784.1L1910.1 798.1L1910.0 812.1L1910.0 826.1L1910.0 840.1L1909.9 854.1L1909.5 868.0L1908.8 878.0L1907.2 892.0L1905.5 906.0L1903.5 920.0L1902.0 928.0L1899.6 938.0L1895.9 952.0L1892.3 966.0L1888.7 980.0L1885.2 994.0L1881.9 1008.0L1880.0 1018.0L1878.3 1030.0L1877.3 1040.0L1876.9 1048.0L1876.8 1054.0L1877.1 1060.0L1877.6 1065.9L1878.4 1071.9L1879.4 1077.9L1880.8 1083.9L1882.5 1089.9L1884.4 1095.9L1886.7 1101.9L1891.0 1111.9L1897.3 1125.9L1899.7 1131.9L1901.8 1137.9L1903.0 1141.9L1904.0 1145.9L1904.9 1149.9L1905.5 1153.9L1906.0 1157.9L1906.3 1161.9L1833.4 1161.9L1833.7 1157.9L1834.2 1153.9L1834.8 1149.9L1835.7 1145.9L1836.7 1141.9L1837.9 1137.9L1840.0 1131.9L1842.4 1125.9L1848.7 1111.9L1853.0 1101.9L1855.3 1095.9L1857.2 1089.9L1858.9 1083.9L1860.3 1077.9L1861.3 1071.9L1862.1 1065.9L1862.6 1060.0L1862.9 1054.0L1862.8 1048.0L1862.4 1040.0L1861.4 1030.0L1859.7 1018.0L1857.8 1008.0L1854.5 994.0L1851.0 980.0L1847.4 966.0L1843.8 952.0L1840.1 938.0L1837.7 928.0L1836.2 920.0L1834.2 906.0L1832.5 892.0L1830.9 878.0L1830.2 868.0L1829.8 854.1L1829.7 840.1L1829.7 826.1L1829.7 812.1L1829.7 798.1L1829.7 784.1L1829.7 770.1L1829.7 756.1L1829.7 742.1L1830.1 728.1L1830.7 714.1L1831.7 700.1L1833.0 688.1L1835.0 674.1L1837.2 660.2L1839.6 646.2L1841.8 632.2L1844.0 618.2L1846.3 604.2L1848.6 590.2L1850.8 576.2L1852.9 562.2L1855.2 548.2L1857.6 534.2L1859.6 520.2L1861.3 506.2L1862.8 492.2L1864.0 478.2L1865.0 464.3L1865.8 450.3L1866.6 436.3L1867.3 422.3L1867.8 408.3L1868.2 394.3L1868.6 380.3L1868.8 366.3Z" fill="#7EC0EE"/>
<path d="M1950.7 327.3L1950.7 341.3L1950.8 355.3L1950.9 369.3L1951.1 383.3L1951.8 397.3L1952.7 411.3L1953.5 425.3L1954.3 439.2L1955.3 453.2L1956.4 467.2L1957.9 481.2L1959.6 495.2L1961.4 509.2L1963.4 523.2L1965.5 537.2L1967.8 551.2L1970.0 565.2L1972.1 579.2L1974.3 593.2L1976.6 607.2L1978.9 621.2L1981.5 635.2L1983.9 649.1L1986.0 663.1L1987.7 677.1L1989.0 691.1L1989.7 703.1L1990.0 717.1L1990.2 731.1L1990.3 745.1L1990.4 759.1L1990.5 773.1L1990.5 787.1L1990.6 801.1L1990.6 815.1L1990.5 829.1L1990.5 843.1L1990.5 857.0L1990.4 871.0L1989.9 885.0L1989.0 899.0L1987.9 909.0L1985.8 923.0L1983.1 937.0L1979.9 951.0L1976.4 965.0L1972.4 979.0L1968.5 993.0L1964.9 1007.0L1962.1 1019.0L1960.3 1029.0L1959.0 1039.0L1958.2 1047.0L1957.9 1053.0L1957.9 1058.9L1958.2 1064.9L1958.8 1070.9L1959.7 1076.9L1960.9 1082.9L1962.5 1088.9L1964.3 1094.9L1966.5 1100.9L1970.6 1110.9L1976.7 1124.9L1980.0 1132.9L1982.2 1138.9L1983.5 1142.9L1984.7 1146.9L1985.6 1150.9L1986.3 1154.9L1986.8 1158.9L1987.0 1161.9L1913.7 1161.9L1913.9 1158.9L1914.4 1154.9L1915.1 1150.9L1916.1 1146.9L1917.2 1142.9L1918.5 1138.9L1920.7 1132.9L1924.0 1124.9L1930.2 1110.9L1934.3 1100.9L1936.4 1094.9L1938.2 1088.9L1939.8 1082.9L1941.0 1076.9L1941.9 1070.9L1942.5 1064.9L1942.8 1058.9L1942.8 1053.0L1942.5 1047.0L1941.8 1039.0L1940.4 1029.0L1938.6 1019.0L1935.9 1007.0L1932.2 993.0L1928.3 979.0L1924.4 965.0L1920.8 951.0L1917.6 937.0L1914.9 923.0L1912.8 909.0L1911.7 899.0L1910.8 885.0L1910.4 871.0L1910.2 857.0L1910.2 843.1L1910.2 829.1L1910.2 815.1L1910.2 801.1L1910.2 787.1L1910.2 773.1L1910.3 759.1L1910.4 745.1L1910.5 731.1L1910.7 717.1L1911.0 703.1L1911.7 691.1L1913.0 677.1L1914.7 663.1L1916.8 649.1L1919.2 635.2L1921.8 621.2L1924.2 607.2L1926.4 593.2L1928.6 579.2L1930.7 565.2L1932.9 551.2L1935.2 537.2L1937.3 523.2L1939.3 509.2L1941.2 495.2L1942.9 481.2L1944.3 467.2L1945.5 453.2L1946.4 439.2L1947.2 425.3L1948.0 411.3L1948.9 397.3L1949.6 383.3L1949.9 369.3L1950.0 355.3L1950.0 341.3L1950.1 327.3Z" fill="#436EEE"/>
<path d="M2031.2 357.1L2031.2 371.1L2031.3 385.1L2031.5 399.1L2032.2 413.1L2033.0 427.1L2033.4 441.1L2033.8 455.1L2034.6 469.1L2035.7 483.1L2037.1 497.1L2038.1 511.1L2038.9 525.1L2039.6 539.1L2040.4 553.1L2041.3 567.0L2042.3 581.0L2043.3 595.0L2044.5 609.0L2045.9 623.0L2047.5 637.0L2049.2 651.0L2051.1 665.0L2053.3 679.0L2055.6 693.0L2058.0 707.0L2060.3 721.0L2062.6 735.0L2064.5 749.0L2066.1 763.0L2067.4 777.0L2068.6 791.0L2069.6 805.0L2070.3 819.0L2070.7 833.0L2071.0 847.0L2071.0 861.0L2070.7 875.0L2070.3 889.0L2069.7 903.0L2068.8 917.0L2067.7 931.0L2066.4 945.0L2064.9 959.0L2063.3 970.9L2061.2 982.9L2058.1 996.9L2054.7 1010.9L2051.0 1024.9L2047.4 1038.9L2045.2 1048.9L2043.8 1056.9L2043.0 1062.9L2042.4 1068.9L2042.2 1074.9L2042.3 1080.9L2042.5 1084.9L2042.9 1088.9L2043.8 1094.9L2045.0 1100.9L2047.1 1108.9L2051.3 1122.9L2054.3 1132.9L2056.3 1140.9L2057.5 1146.9L2058.3 1152.9L2058.9 1158.9L2059.1 1161.9L2002.6 1161.9L2002.8 1158.9L2003.4 1152.9L2004.3 1146.9L2005.5 1140.9L2007.5 1132.9L2010.4 1122.9L2014.6 1108.9L2016.7 1100.9L2017.9 1094.9L2018.9 1088.9L2019.3 1084.9L2019.5 1080.9L2019.5 1074.9L2019.3 1068.9L2018.8 1062.9L2018.0 1056.9L2016.5 1048.9L2014.3 1038.9L2010.7 1024.9L2007.0 1010.9L2003.6 996.9L2000.5 982.9L1998.4 970.9L1996.9 959.0L1995.4 945.0L1994.1 931.0L1992.9 917.0L1992.0 903.0L1991.4 889.0L1991.1 875.0L1990.8 861.0L1990.7 847.0L1991.0 833.0L1991.5 819.0L1992.2 805.0L1993.1 791.0L1994.3 777.0L1995.7 763.0L1997.3 749.0L1999.2 735.0L2001.4 721.0L2003.7 707.0L2006.1 693.0L2008.5 679.0L2010.6 665.0L2012.5 651.0L2014.3 637.0L2015.8 623.0L2017.2 609.0L2018.4 595.0L2019.5 581.0L2020.4 567.0L2021.3 553.1L2022.1 539.1L2022.9 525.1L2023.6 511.1L2024.6 497.1L2026.0 483.1L2027.2 469.1L2027.9 455.1L2028.4 441.1L2028.8 427.1L2029.5 413.1L2030.2 399.1L2030.4 385.1L2030.5 371.1L2030.6 357.1Z" fill="#FF3030"/>
<path d="M2140.6 534.4L2140.8 548.4L2141.1 562.4L2141.4 576.4L2141.8 590.4L2142.4 604.3L2143.1 618.3L2144.1 632.3L2145.4 646.3L2147.0 660.3L2149.1 674.3L2151.8 688.3L2154.6 702.3L2157.4 716.3L2160.2 730.2L2163.0 744.2L2165.9 758.2L2168.8 772.2L2171.7 786.2L2174.2 800.2L2176.3 814.2L2177.4 824.2L2178.1 834.2L2178.3 842.2L2178.1 850.1L2177.4 860.1L2176.0 872.1L2173.7 886.1L2171.1 900.1L2168.2 914.1L2165.1 928.1L2162.0 942.1L2159.0 956.1L2156.2 970.1L2153.4 984.0L2150.6 998.0L2147.8 1012.0L2145.4 1026.0L2143.2 1040.0L2141.7 1054.0L2140.9 1066.0L2140.7 1076.0L2141.0 1086.0L2141.6 1094.0L2142.7 1101.9L2144.5 1111.9L2147.5 1125.9L2150.2 1139.9L2151.4 1147.9L2152.3 1155.9L2152.7 1161.9L2123.8 1161.9L2124.1 1155.9L2125.0 1147.9L2126.2 1139.9L2129.0 1125.9L2131.9 1111.9L2133.8 1101.9L2134.8 1094.0L2135.4 1086.0L2135.7 1076.0L2135.5 1066.0L2134.7 1054.0L2133.2 1040.0L2131.1 1026.0L2128.6 1012.0L2125.8 998.0L2123.0 984.0L2120.3 970.1L2117.4 956.1L2114.4 942.1L2111.3 928.1L2108.2 914.1L2105.3 900.1L2102.7 886.1L2100.5 872.1L2099.0 860.1L2098.3 850.1L2098.1 842.2L2098.3 834.2L2099.0 824.2L2100.1 814.2L2102.2 800.2L2104.7 786.2L2107.6 772.2L2110.5 758.2L2113.4 744.2L2116.2 730.2L2119.0 716.3L2121.8 702.3L2124.7 688.3L2127.3 674.3L2129.4 660.3L2131.0 646.3L2132.3 632.3L2133.3 618.3L2134.0 604.3L2134.6 590.4L2135.0 576.4L2135.3 562.4L2135.6 548.4L2135.9 534.4Z" fill="#7EC0EE"/>
<path d="M2221.4 499.2L2221.5 513.2L2221.9 527.2L2222.4 541.2L2223.0 555.2L2223.7 569.2L2224.7 583.2L2226.2 597.2L2228.0 611.1L2229.9 625.1L2231.9 639.1L2233.8 653.1L2235.8 667.1L2237.7 681.1L2239.5 695.1L2241.1 709.1L2242.5 723.1L2243.8 737.1L2245.1 751.1L2246.3 765.1L2247.7 779.1L2249.3 793.1L2251.0 807.1L2252.7 821.1L2254.4 835.0L2256.0 849.0L2257.3 863.0L2258.3 877.0L2258.8 891.0L2258.9 905.0L2258.6 915.0L2258.1 923.0L2256.9 933.0L2254.7 947.0L2252.6 961.0L2250.4 975.0L2247.9 989.0L2245.5 1003.0L2243.0 1017.0L2240.7 1031.0L2238.6 1045.0L2236.9 1058.9L2235.5 1072.9L2234.6 1086.9L2234.0 1100.9L2233.8 1114.9L2233.7 1128.9L2233.7 1142.9L2233.7 1156.9L2233.7 1161.9L2203.7 1161.9L2203.7 1156.9L2203.7 1142.9L2203.7 1128.9L2203.7 1114.9L2203.4 1100.9L2202.9 1086.9L2201.9 1072.9L2200.6 1058.9L2198.8 1045.0L2196.8 1031.0L2194.4 1017.0L2192.0 1003.0L2189.5 989.0L2187.1 975.0L2184.9 961.0L2182.7 947.0L2180.6 933.0L2179.4 923.0L2178.8 915.0L2178.5 905.0L2178.6 891.0L2179.2 877.0L2180.1 863.0L2181.4 849.0L2183.0 835.0L2184.7 821.1L2186.4 807.1L2188.1 793.1L2189.7 779.1L2191.1 765.1L2192.4 751.1L2193.6 737.1L2194.9 723.1L2196.3 709.1L2197.9 695.1L2199.7 681.1L2201.7 667.1L2203.6 653.1L2205.6 639.1L2207.5 625.1L2209.4 611.1L2211.2 597.2L2212.7 583.2L2213.7 569.2L2214.4 555.2L2215.1 541.2L2215.6 527.2L2215.9 513.2L2216.0 499.2Z" fill="#436EEE"/>
<path d="M2300.0 532.1L2300.1 546.1L2300.2 560.1L2300.6 574.1L2301.4 588.1L2302.3 602.1L2303.2 616.1L2304.2 630.1L2305.2 644.1L2306.6 658.1L2308.4 672.1L2310.6 686.1L2313.2 700.0L2316.3 714.0L2319.4 728.0L2322.3 742.0L2324.8 756.0L2327.0 770.0L2329.1 784.0L2330.9 798.0L2332.7 812.0L2334.5 826.0L2336.0 840.0L2337.4 854.0L2338.4 868.0L2339.1 882.0L2339.3 896.0L2339.1 910.0L2338.6 920.0L2337.4 932.0L2335.5 946.0L2333.7 960.0L2331.9 974.0L2330.2 988.0L2328.3 1002.0L2326.2 1015.9L2324.1 1029.9L2321.7 1043.9L2319.5 1057.9L2317.8 1071.9L2316.9 1083.9L2316.6 1091.9L2316.6 1097.9L2317.3 1109.9L2318.6 1123.9L2320.0 1137.9L2321.1 1151.9L2321.5 1161.9L2277.0 1161.9L2277.4 1151.9L2278.5 1137.9L2279.9 1123.9L2281.1 1109.9L2281.8 1097.9L2281.9 1091.9L2281.6 1083.9L2280.6 1071.9L2278.9 1057.9L2276.7 1043.9L2274.4 1029.9L2272.2 1015.9L2270.1 1002.0L2268.3 988.0L2266.6 974.0L2264.8 960.0L2262.9 946.0L2261.1 932.0L2259.9 920.0L2259.3 910.0L2259.1 896.0L2259.4 882.0L2260.1 868.0L2261.1 854.0L2262.4 840.0L2264.0 826.0L2265.7 812.0L2267.5 798.0L2269.4 784.0L2271.4 770.0L2273.7 756.0L2276.2 742.0L2279.0 728.0L2282.2 714.0L2285.2 700.0L2287.9 686.1L2290.1 672.1L2291.9 658.1L2293.3 644.1L2294.3 630.1L2295.2 616.1L2296.2 602.1L2297.1 588.1L2297.8 574.1L2298.2 560.1L2298.4 546.1L2298.4 532.1Z" fill="#FF3030"/>
<path d="M2427.3 566.4L2428.4 580.4L2428.7 588.4L2428.6 598.4L2428.1 606.4L2426.7 620.4L2425.1 634.3L2424.4 644.3L2424.1 654.3L2424.2 662.3L2424.7 670.3L2425.6 678.3L2427.8 692.3L2430.5 706.3L2433.4 720.3L2436.6 734.3L2440.0 748.2L2443.0 762.2L2444.8 772.2L2445.9 780.2L2446.4 786.2L2446.7 794.2L2446.7 802.2L2446.3 810.2L2445.5 818.2L2444.3 826.2L2442.8 834.2L2439.9 846.2L2436.1 860.2L2432.3 874.1L2428.9 888.1L2426.1 902.1L2424.2 914.1L2423.4 922.1L2422.5 936.1L2421.9 950.1L2421.5 964.1L2421.0 978.1L2420.2 992.0L2419.1 1006.0L2417.8 1020.0L2416.2 1034.0L2414.5 1048.0L2412.9 1062.0L2411.6 1076.0L2410.7 1090.0L2410.1 1103.9L2409.8 1117.9L2409.7 1131.9L2409.6 1145.9L2409.5 1159.9L2409.5 1161.9L2403.7 1161.9L2403.6 1159.9L2403.6 1145.9L2403.5 1131.9L2403.4 1117.9L2403.0 1103.9L2402.5 1090.0L2401.5 1076.0L2400.3 1062.0L2398.6 1048.0L2397.0 1034.0L2395.4 1020.0L2394.0 1006.0L2392.9 992.0L2392.2 978.1L2391.6 964.1L2391.2 950.1L2390.7 936.1L2389.8 922.1L2388.9 914.1L2387.0 902.1L2384.3 888.1L2380.9 874.1L2377.1 860.2L2373.2 846.2L2370.4 834.2L2368.8 826.2L2367.7 818.2L2366.9 810.2L2366.4 802.2L2366.4 794.2L2366.7 786.2L2367.3 780.2L2368.3 772.2L2370.1 762.2L2373.2 748.2L2376.5 734.3L2379.7 720.3L2382.7 706.3L2385.4 692.3L2387.6 678.3L2388.4 670.3L2388.9 662.3L2389.0 654.3L2388.7 644.3L2388.0 634.3L2386.4 620.4L2385.0 606.4L2384.6 598.4L2384.5 588.4L2384.7 580.4L2385.9 566.4Z" fill="#7EC0EE"/>
<path d="M2493.2 591.0L2493.7 605.0L2494.6 619.0L2495.6 633.0L2496.9 647.0L2498.8 661.0L2501.0 675.0L2503.6 689.0L2506.8 703.0L2510.2 717.0L2513.8 731.0L2517.2 745.0L2520.3 759.0L2523.0 773.0L2525.0 785.0L2526.0 793.0L2526.9 805.0L2527.3 817.0L2527.1 831.0L2526.4 845.0L2525.3 859.0L2523.9 873.0L2522.2 886.9L2520.5 900.9L2519.2 914.9L2518.1 928.9L2517.0 942.9L2515.9 956.9L2514.5 970.9L2512.8 984.9L2510.8 998.9L2508.7 1012.9L2506.4 1026.9L2504.0 1040.9L2501.6 1054.9L2499.5 1068.9L2498.0 1082.9L2496.8 1096.9L2495.9 1110.9L2495.3 1124.9L2494.7 1138.9L2494.3 1152.9L2494.2 1161.9L2479.9 1161.9L2479.8 1152.9L2479.5 1138.9L2478.9 1124.9L2478.2 1110.9L2477.4 1096.9L2476.2 1082.9L2474.6 1068.9L2472.5 1054.9L2470.1 1040.9L2467.8 1026.9L2465.5 1012.9L2463.3 998.9L2461.3 984.9L2459.7 970.9L2458.3 956.9L2457.2 942.9L2456.1 928.9L2455.0 914.9L2453.6 900.9L2451.9 886.9L2450.3 873.0L2448.8 859.0L2447.7 845.0L2447.1 831.0L2446.9 817.0L2447.3 805.0L2448.2 793.0L2449.1 785.0L2451.1 773.0L2453.9 759.0L2456.9 745.0L2460.4 731.0L2463.9 717.0L2467.4 703.0L2470.5 689.0L2473.1 675.0L2475.4 661.0L2477.2 647.0L2478.6 633.0L2479.6 619.0L2480.4 605.0L2481.0 591.0Z" fill="#436EEE"/>
<path d="M2571.8 604.3L2572.9 618.3L2574.2 632.3L2575.6 646.3L2577.1 660.3L2578.5 674.2L2580.0 688.2L2581.4 702.2L2582.8 716.2L2584.3 730.2L2586.1 744.2L2588.3 758.2L2591.0 772.2L2593.8 786.2L2596.6 800.2L2599.5 814.1L2602.1 828.1L2604.5 842.1L2606.0 854.1L2607.1 868.1L2607.4 876.1L2607.3 884.1L2606.8 894.1L2605.5 908.1L2603.8 922.1L2601.9 936.1L2600.0 950.1L2598.1 964.0L2596.2 978.0L2594.1 992.0L2591.8 1006.0L2589.2 1020.0L2586.4 1034.0L2583.6 1048.0L2580.9 1062.0L2579.2 1072.0L2578.0 1082.0L2577.2 1092.0L2576.8 1105.9L2576.9 1119.9L2577.5 1133.9L2578.1 1147.9L2578.4 1161.9L2556.7 1161.9L2557.1 1147.9L2557.7 1133.9L2558.2 1119.9L2558.4 1105.9L2557.9 1092.0L2557.2 1082.0L2556.0 1072.0L2554.3 1062.0L2551.6 1048.0L2548.8 1034.0L2546.0 1020.0L2543.4 1006.0L2541.1 992.0L2539.0 978.0L2537.0 964.0L2535.2 950.1L2533.2 936.1L2531.4 922.1L2529.7 908.1L2528.3 894.1L2527.8 884.1L2527.8 876.1L2528.1 868.1L2529.2 854.1L2530.7 842.1L2533.0 828.1L2535.7 814.1L2538.6 800.2L2541.4 786.2L2544.2 772.2L2546.9 758.2L2549.1 744.2L2550.8 730.2L2552.4 716.2L2553.8 702.2L2555.2 688.2L2556.6 674.2L2558.1 660.3L2559.5 646.3L2561.0 632.3L2562.3 618.3L2563.3 604.3Z" fill="#FF3030"/>
</g>
<g>
<path class="ax" stroke-linecap="square" d="M179.20 142.90V1210.45"/>
<path class="ax" stroke-linecap="square" d="M179.20 1210.45H2648.10"/>
<path class="ax" d="M164.62 1161.90H179.20"/>
<path class="ax" d="M164.62 843.28H179.20"/>
<path class="ax" d="M164.62 524.67H179.20"/>
<path class="ax" d="M164.62 206.05H179.20"/>
<path class="ax" d="M340.20 1210.45V1225.03"/>
<path class="ax" d="M608.56 1210.45V1225.03"/>
<path class="ax" d="M876.92 1210.45V1225.03"/>
<path class="ax" d="M1145.28 1210.45V1225.03"/>
<path class="ax" d="M1413.64 1210.45V1225.03"/>
<path class="ax" d="M1682.00 1210.45V1225.03"/>
<path class="ax" d="M1950.36 1210.45V1225.03"/>
<path class="ax" d="M2218.72 1210.45V1225.03"/>
<path class="ax" d="M2487.08 1210.45V1225.03"/>
</g>
<g transform="translate(1413.65 99.9) scale(1 0.985)">
<text class="t" x="0.00" y="0.00" font-size="60.00" font-weight="bold" text-anchor="middle">Mycbp2</text>
</g>
<g transform="translate(94.2 676.43) rotate(-90)">
<text class="t" x="0.00" y="0.00" font-size="52.50" font-weight="normal" text-anchor="middle">Expression Level</text>
</g>
<g transform="translate(152.17 1180.15)">
<text class="t" x="0.00" y="0.00" font-size="45.00" font-weight="normal" text-anchor="end">0</text>
</g>
<g transform="translate(152.17 861.53)">
<text class="t" x="0.00" y="0.00" font-size="45.00" font-weight="normal" text-anchor="end">1</text>
</g>
<g transform="translate(152.17 542.92)">
<text class="t" x="0.00" y="0.00" font-size="45.00" font-weight="normal" text-anchor="end">2</text>
</g>
<g transform="translate(152.17 224.30)">
<text class="t" x="0.00" y="0.00" font-size="45.00" font-weight="normal" text-anchor="end">3</text>
</g>
<g transform="translate(340.20 1237.30) rotate(-45)">
<text class="t" x="0.00" y="36.60" font-size="45.00" font-weight="normal" text-anchor="end">Lef1+ Papillary</text>
</g>
<g transform="translate(608.56 1237.30) rotate(-45)">
<text class="t" x="0.00" y="36.60" font-size="45.00" font-weight="normal" text-anchor="end">Dlk1+ Reticular</text>
</g>
<g transform="translate(876.92 1237.30) rotate(-45)">
<text class="t" x="0.00" y="36.60" font-size="45.00" font-weight="normal" text-anchor="end">Dpp4+ Papillary</text>
</g>
<g transform="translate(1145.28 1237.30) rotate(-45)">
<text class="t" x="0.00" y="36.60" font-size="45.00" font-weight="normal" text-anchor="end">Mki67+ Fibroblasts</text>
</g>
<g transform="translate(1413.64 1237.30) rotate(-45)">
<text class="t" x="0.00" y="36.60" font-size="45.00" font-weight="normal" text-anchor="end">Fabp4+ Pre-Adipocytes</text>
</g>
<g transform="translate(1682.00 1237.30) rotate(-45)">
<text class="t" x="0.00" y="36.60" font-size="45.00" font-weight="normal" text-anchor="end">Inhba+ Dermal Papilla</text>
</g>
<g transform="translate(1950.36 1237.30) rotate(-45)">
<text class="t" x="0.00" y="36.60" font-size="45.00" font-weight="normal" text-anchor="end">Tagln+ Papillary</text>
</g>
<g transform="translate(2218.72 1237.30) rotate(-45)">
<text class="t" x="0.00" y="36.60" font-size="45.00" font-weight="normal" text-anchor="end">Plac8+ Fascia</text>
</g>
<g transform="translate(2487.08 1237.30) rotate(-45)">
<text class="t" x="0.00" y="36.60" font-size="45.00" font-weight="normal" text-anchor="end">Acan+ Dermal Sheath</text>
</g>
</svg></body></html>
